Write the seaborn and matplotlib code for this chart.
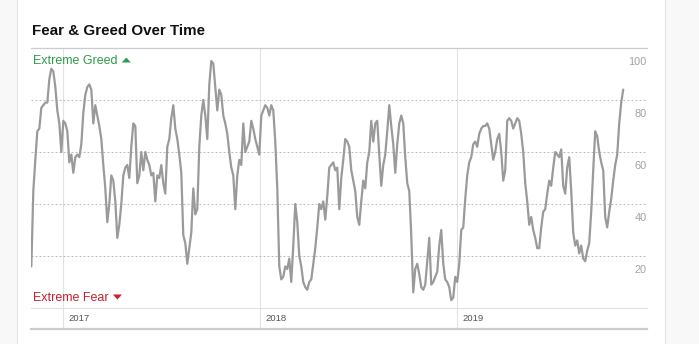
import numpy as np
import pandas as pd
import matplotlib
matplotlib.use("Agg")
import matplotlib.pyplot as plt
import matplotlib.dates as mdates
import matplotlib.transforms as mtransforms
from matplotlib.patches import Rectangle, Polygon
from matplotlib.lines import Line2D
import seaborn as sns

# Fear & Greed index readings, evenly spaced from start_date to end_date
start_date = "2016-11-04"
end_date = "2019-11-04"
fear_greed = [
    16, 45, 57, 68, 69, 77, 78, 79, 79, 88,
    92, 91, 85, 76, 71, 60, 72, 71, 68, 56,
    59, 52, 58, 59, 58, 63, 75, 82, 85, 86,
    84, 71, 78, 74, 70, 65, 55, 46, 33, 40,
    51, 49, 41, 27, 32, 40, 51, 54, 55, 50,
    62, 71, 70, 48, 51, 60, 53, 60, 57, 55,
    51, 52, 41, 51, 50, 55, 48, 44, 62, 65,
    73, 78, 69, 65, 59, 52, 28, 25, 17, 23,
    29, 46, 36, 38, 62, 74, 80, 74, 65, 86,
    95, 94, 85, 76, 84, 82, 74, 71, 67, 60,
    54, 51, 38, 51, 57, 55, 71, 60, 62, 64,
    72, 69, 65, 62, 59, 74, 76, 78, 77, 74,
    78, 76, 64, 46, 16, 11, 12, 16, 15, 19,
    10, 24, 40, 33, 20, 16, 10, 8, 7, 10,
    11, 17, 23, 31, 40, 38, 41, 34, 43, 54,
    55, 56, 53, 54, 38, 50, 57, 65, 64, 62,
    53, 49, 45, 35, 32, 41, 49, 46, 56, 60,
    72, 64, 71, 72, 59, 47, 55, 59, 68, 78,
    70, 63, 52, 63, 71, 74, 71, 58, 48, 45,
    28, 6, 15, 17, 13, 8, 7, 9, 18, 27,
    9, 10, 12, 14, 24, 30, 17, 11, 10, 8,
    3, 4, 12, 10, 17, 30, 31, 42, 51, 56,
    58, 63, 64, 62, 67, 69, 70, 70, 71, 69,
    63, 57, 60, 65, 67, 60, 49, 53, 72, 73,
    72, 69, 71, 73, 72, 67, 60, 48, 41, 32,
    35, 30, 27, 23, 23, 31, 37, 38, 44, 49,
    47, 54, 60, 59, 58, 61, 47, 44, 54, 58,
    45, 29, 24, 26, 21, 24, 19, 18, 22, 25,
    37, 53, 68, 66, 60, 56, 53, 35, 31, 37,
    42, 49, 55, 59, 71, 79, 84,
]
years = [2017, 2018, 2019]
y_ticks = [20, 40, 60, 80, 100]

sns.set_theme(style="white")
plt.rcParams["font.family"] = ["Liberation Sans", "DejaVu Sans"]

W, H = 699, 344
DPI = 100
fig = plt.figure(figsize=(W / DPI, H / DPI), dpi=DPI)
fig.patch.set_facecolor("white")


def fx(px):
    return px / W


def fy(py):
    return 1 - py / H


# page side panels
for x0, x1, edge in [(0, 16.5, 16.5), (665, W, 665)]:
    fig.add_artist(Rectangle((fx(x0), 0), fx(x1 - x0), 1, transform=fig.transFigure,
                             facecolor="#f8f8f8", edgecolor="none", zorder=0))
    fig.add_artist(Line2D([fx(edge), fx(edge)], [0, 1], transform=fig.transFigure,
                          color="#e4e4e4", lw=0.8, zorder=1))

L, R, TOP, BOT, BAND = 31, 647, 48, 308, 329
ax = fig.add_axes([fx(L), fy(BOT), (R - L) / W, (BOT - TOP) / H])
band = fig.add_axes([fx(L), fy(BAND), (R - L) / W, (BAND - BOT) / H], sharex=ax)

df = pd.DataFrame({
    "date": pd.date_range(start_date, end_date, periods=len(fear_greed)),
    "value": fear_greed,
})
sns.lineplot(data=df, x="date", y="value", ax=ax, color="#9a9a9a",
             linewidth=1.6, zorder=3)

jan17 = mdates.date2num(pd.Timestamp("2017-01-01"))
jan19 = mdates.date2num(pd.Timestamp("2019-01-01"))
ax.set_xlim(jan17 - 58.6, jan19 + 351)
ax.set_ylim(0, 100)

for a in (ax, band):
    a.set_xticks([])
    a.set_yticks([])
    a.set_xlabel("")
    a.set_ylabel("")
    a.patch.set_alpha(0)
    for s in a.spines.values():
        s.set_visible(False)

ax.spines["top"].set_visible(True)
ax.spines["top"].set_color("#cccccc")
ax.spines["top"].set_linewidth(0.9)

for v in y_ticks[:-1]:
    ax.axhline(v, color="#bdbdbd", lw=0.72, ls=(0, (2, 2)), zorder=1)

label_shift = mtransforms.ScaledTranslation(0, -16.7 / DPI, fig.dpi_scale_trans)
for v in y_ticks:
    ax.text(1.0, v, str(v), transform=ax.get_yaxis_transform() + label_shift,
            ha="right", va="baseline", fontsize=7.9, color="#a3a3a3")

year_shift = mtransforms.ScaledTranslation(5.6 / DPI, 0, fig.dpi_scale_trans)
for yr in years:
    d = mdates.date2num(pd.Timestamp(f"{yr}-01-01"))
    ax.axvline(d, color="#e2e2e2", lw=0.8, zorder=0)
    band.axvline(d, color="#e2e2e2", lw=0.8, zorder=0)
    band.text(d, 0.5, str(yr), transform=band.get_xaxis_transform() + year_shift,
              ha="left", va="center", fontsize=6.8, color="#555555")

band.set_ylim(0, 1)
band.spines["top"].set_visible(True)
band.spines["top"].set_color("#e0e0e0")
band.spines["top"].set_linewidth(0.8)
band.spines["bottom"].set_visible(True)
band.spines["bottom"].set_color("#cccccc")
band.spines["bottom"].set_linewidth(1.6)

fig.text(fx(32), fy(34.7), "Fear & Greed Over Time", fontsize=10.9,
         fontweight="bold", color="#111111", ha="left", va="baseline")

greed = fig.text(fx(33.3), fy(64), "Extreme Greed", fontsize=9,
                 color="#2e9d48", ha="left", va="baseline")
fear = fig.text(fx(33.3), fy(301), "Extreme Fear", fontsize=9,
                color="#cc1f2f", ha="left", va="baseline")

# small arrow glyphs next to the zone labels
renderer = fig.canvas.get_renderer()
for t, up, color in [(greed, True, "#2e9d48"), (fear, False, "#cc1f2f")]:
    bb = t.get_window_extent(renderer)
    x0 = bb.x1 + 4
    base = bb.y0 + (bb.y1 - bb.y0) * 0.0
    yb = H - (64 if up else 301)  # baseline in display coordinates
    yc = yb + 4.0
    if up:
        pts = [(x0, yc - 2.5), (x0 + 9, yc - 2.5), (x0 + 4.5, yc + 2.5)]
    else:
        pts = [(x0, yc + 2.5), (x0 + 9, yc + 2.5), (x0 + 4.5, yc - 2.5)]
    fig.add_artist(Polygon(pts, closed=True, facecolor=color, edgecolor="none",
                           transform=None))

fig.savefig("out.png", dpi=DPI)
